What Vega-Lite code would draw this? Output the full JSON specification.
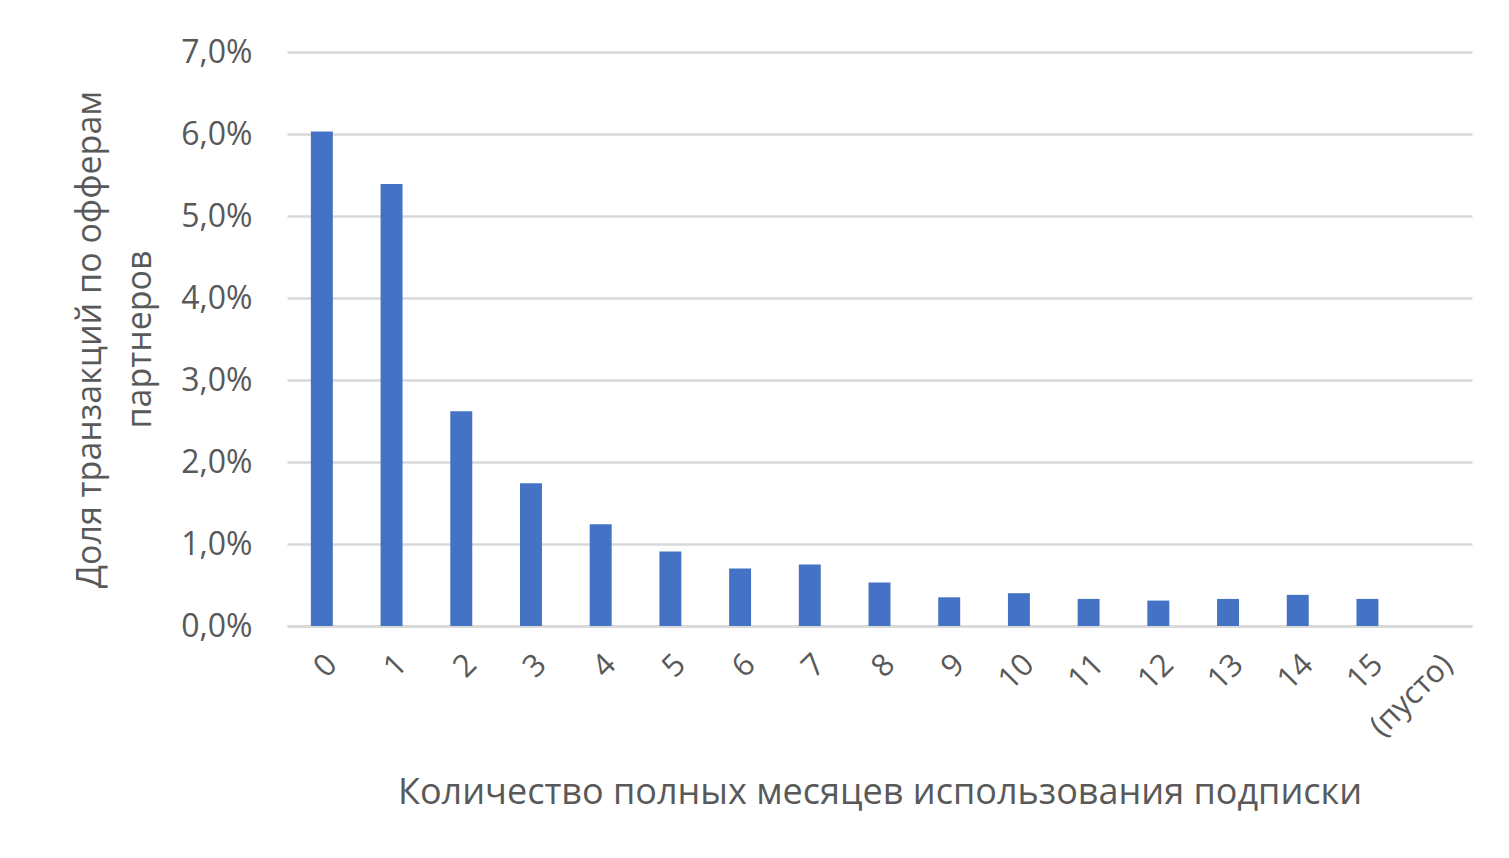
{
  "$schema": "https://vega.github.io/schema/vega-lite/v6.json",
  "width": 1185,
  "height": 574,
  "autosize": {"type": "none"},
  "padding": {"left": 287, "top": 52, "right": 37, "bottom": 232},
  "background": "white",
  "config": {
    "view": {"stroke": null},
    "font": "Open Sans",
    "axis": {
      "labelFont": "Open Sans",
      "titleFont": "Open Sans",
      "labelColor": "#595959",
      "titleColor": "#595959",
      "titleFontWeight": "normal"
    }
  },
  "data": {
    "values": [
      {"months": "0", "share": 0.0603},
      {"months": "1", "share": 0.0539},
      {"months": "2", "share": 0.0262},
      {"months": "3", "share": 0.0174},
      {"months": "4", "share": 0.0124},
      {"months": "5", "share": 0.0091},
      {"months": "6", "share": 0.0070},
      {"months": "7", "share": 0.0075},
      {"months": "8", "share": 0.0053},
      {"months": "9", "share": 0.0035},
      {"months": "10", "share": 0.0040},
      {"months": "11", "share": 0.0033},
      {"months": "12", "share": 0.0031},
      {"months": "13", "share": 0.0033},
      {"months": "14", "share": 0.0038},
      {"months": "15", "share": 0.0033},
      {"months": "(пусто)", "share": 0}
    ]
  },
  "mark": {"type": "bar", "color": "#4472C4"},
  "encoding": {
    "x": {
      "field": "months",
      "type": "nominal",
      "sort": null,
      "scale": {"paddingInner": 0.685, "paddingOuter": 0.3425},
      "axis": {
        "title": "Количество полных месяцев использования подписки",
        "titleFontSize": 36,
        "titlePadding": 34,
        "labelFontSize": 31,
        "labelAngle": -45,
        "labelPadding": 23,
        "ticks": false,
        "domain": true,
        "domainColor": "#d9d9d9",
        "domainWidth": 2.5
      }
    },
    "y": {
      "field": "share",
      "type": "quantitative",
      "scale": {"domain": [0, 0.07], "nice": false},
      "axis": {
        "title": ["Доля транзакций по офферам", "партнеров"],
        "titleFontSize": 34,
        "titleLineHeight": 50,
        "titlePadding": 23,
        "values": [0, 0.01, 0.02, 0.03, 0.04, 0.05, 0.06, 0.07],
        "labelExpr": "replace(format(datum.value, '.1%'), '.', ',')",
        "labelFontSize": 32,
        "labelPadding": 35,
        "ticks": false,
        "domain": false,
        "grid": true,
        "gridColor": "#d9d9d9",
        "gridWidth": 2.5
      }
    }
  }
}
